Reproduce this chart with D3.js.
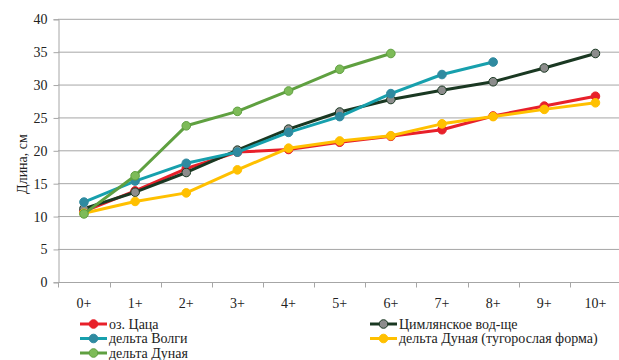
<!DOCTYPE html>
<html><head><meta charset="utf-8">
<script src="https://cdn.jsdelivr.net/npm/d3@7"></script>
<style>body{margin:0;background:#fff}svg{display:block}
svg text{font-family:"Liberation Serif","Times New Roman","DejaVu Serif",serif;}</style>
</head><body>
<svg id="chart" width="619" height="360"></svg>
<script>
const ages = ["0+","1+","2+","3+","4+","5+","6+","7+","8+","9+","10+"];
const yTicks = [0,5,10,15,20,25,30,35,40];
const seriesNames = ["оз. Цаца","Цимлянское вод-ще","дельта Волги","дельта Дуная (тугорослая форма)","дельта Дуная"];
const tsatsa   = [10.8,13.9,17.3,19.8,20.2,21.3,22.2,23.2,25.3,26.8,28.3];
const tsimlyan = [11.2,13.7,16.7,20.1,23.3,25.9,27.8,29.2,30.5,32.6,34.8];
const volga    = [12.2,15.4,18.1,19.8,22.8,25.2,28.7,31.6,33.5];
const dunaySt  = [10.5,12.3,13.6,17.1,20.4,21.5,22.3,24.1,25.2,26.3,27.3];
const dunay    = [10.4,16.2,23.8,26.0,29.1,32.4,34.8];
const lineColors   = ["#e8202a","#1a3822","#17a0ad","#ffc000","#5fa040"];
const markerFills  = ["#e8202a","#8c8c8c","#2f8aa0","#ffc000","#7dbb58"];
const markerStroke = ["#e8202a","#1a3822","#2f8aa0","#ffc000","#5fa040"];
const seriesValues = [tsatsa,tsimlyan,volga,dunaySt,dunay];

const svg = d3.select("#chart");
const x = d3.scaleBand().domain(ages).range([58.4, 621]);
const y = d3.scaleLinear().domain([0,40]).range([282.3, 19.3]);

// horizontal gridlines
svg.append("g").selectAll("line").data(yTicks.filter(d=>d>0)).join("line")
  .attr("x1",58).attr("x2",619).attr("y1",d=>y(d)).attr("y2",d=>y(d))
  .attr("stroke","#a6a6a6").attr("stroke-width",1);

// y axis
const yAxis = svg.append("g").attr("transform","translate(58.5,0)")
  .call(d3.axisLeft(y).tickValues(yTicks).tickSize(5).tickPadding(6));
yAxis.attr("font-family",null);
yAxis.select(".domain").attr("stroke","#a6a6a6");
yAxis.selectAll(".tick line").attr("stroke","#a6a6a6");
yAxis.selectAll("text").attr("font-size",14).attr("fill","#222");

// x axis with ticks at band boundaries
const xg = svg.append("g").attr("transform","translate(0,282.5)");
xg.append("line").attr("x1",58).attr("x2",619).attr("stroke","#a6a6a6");
xg.selectAll("line.t").data(ages).join("line").attr("class","t")
  .attr("x1",d=>Math.round(x(d))+0.5).attr("x2",d=>Math.round(x(d))+0.5)
  .attr("y1",0).attr("y2",5).attr("stroke","#a6a6a6");
xg.selectAll("text").data(ages).join("text")
  .attr("x",d=>x(d)+x.bandwidth()/2).attr("y",25)
  .attr("text-anchor","middle").attr("font-size",14).attr("fill","#222")
  .text(d=>d);

// y axis title
svg.append("text").attr("transform","translate(27,164) rotate(-90)")
  .attr("text-anchor","middle").attr("font-size",14).attr("fill","#222")
  .text("Длина, см");

// series
const line = d3.line().x((d,i)=>x(ages[i])+x.bandwidth()/2).y(d=>y(d));
seriesValues.forEach((vals,k)=>{
  const g = svg.append("g");
  g.append("path").datum(vals).attr("d",line).attr("fill","none")
    .attr("stroke",lineColors[k]).attr("stroke-width",3).attr("stroke-linejoin","round");
  g.selectAll("circle").data(vals).join("circle")
    .attr("cx",(d,i)=>x(ages[i])+x.bandwidth()/2).attr("cy",d=>y(d)).attr("r",4.3)
    .attr("fill",markerFills[k]).attr("stroke",markerStroke[k]).attr("stroke-width",1);
});

// legend (row-major, two columns)
const legendPos = [[80,324],[370,324],[80,338.5],[370,338.5],[80,353]];
seriesNames.forEach((name,k)=>{
  const [lx,ly] = legendPos[k];
  const g = svg.append("g");
  g.append("line").attr("x1",lx).attr("x2",lx+27).attr("y1",ly).attr("y2",ly)
    .attr("stroke",lineColors[k]).attr("stroke-width",3);
  g.append("circle").attr("cx",lx+13.5).attr("cy",ly).attr("r",4.3)
    .attr("fill",markerFills[k]).attr("stroke",markerStroke[k]).attr("stroke-width",1);
  g.append("text").attr("x",lx+29).attr("y",ly+4.5).attr("font-size",14)
    .attr("fill","#222").text(name);
});
</script>
</body></html>
